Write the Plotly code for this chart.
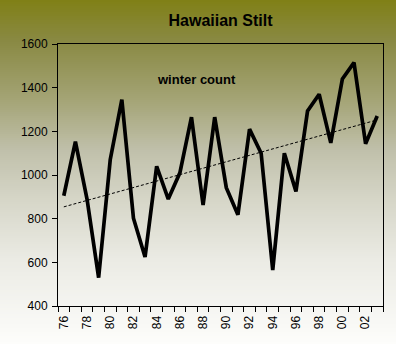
import numpy as np
import plotly.graph_objects as go

years = ["76", "77", "78", "79", "80", "81", "82", "83", "84", "85", "86", "87", "88", "89",
         "90", "91", "92", "93", "94", "95", "96", "97", "98", "99", "00", "01", "02", "03"]
counts = [905, 1153, 890, 530, 1070, 1345, 802, 624, 1040, 890, 1010, 1265, 862, 1265,
          942, 818, 1210, 1100, 565, 1100, 925, 1293, 1370, 1147, 1440, 1515, 1143, 1270]
tick_text = [y if i % 2 == 0 else "" for i, y in enumerate(years)]

# linear trend line (Excel-style linear trendline)
idx = np.arange(len(counts))
slope, intercept = np.polyfit(idx, counts, 1)
trend = (slope * idx + intercept).tolist()

W, H = 396, 344
ML, MR, MT, MB = 58, 13, 44, 38

# background gradient stops (pixel row -> rgb)
stops = [(0, (128, 128, 22)), (40, (137, 137, 66)), (100, (164, 164, 118)),
         (150, (192, 192, 170)), (200, (214, 214, 200)), (260, (235, 235, 228)),
         (344, (253, 253, 251))]

def color_at(y):
    for (y0, c0), (y1, c1) in zip(stops[:-1], stops[1:]):
        if y0 <= y <= y1:
            t = (y - y0) / (y1 - y0)
            return "rgb(%d,%d,%d)" % tuple(round(a + (b - a) * t) for a, b in zip(c0, c1))
    return "rgb(253,253,251)"

ph = H - MT - MB
pw = W - ML - MR
shapes = []
step = 2
for y in range(0, H, step):
    y_top = 1 - (y - MT) / ph
    y_bot = 1 - (y + step - MT) / ph
    shapes.append(dict(type="rect", xref="paper", yref="paper",
                       x0=-ML / pw, x1=1 + MR / pw, y0=y_bot, y1=y_top,
                       fillcolor=color_at(y + step / 2), line=dict(width=0), layer="below"))

fig = go.Figure()
fig.add_trace(go.Scatter(x=years, y=trend, mode="lines",
                         line=dict(color="black", width=1, dash="3px,2px"),
                         hoverinfo="skip", showlegend=False))
fig.add_trace(go.Scatter(x=years, y=counts, mode="lines",
                         line=dict(color="black", width=3.7), showlegend=False))

font = "Arial, Liberation Sans, sans-serif"
fig.update_layout(
    width=W, height=H,
    margin=dict(l=ML, r=MR, t=MT, b=MB, pad=0),
    paper_bgcolor="rgba(0,0,0,0)", plot_bgcolor="rgba(0,0,0,0)",
    shapes=shapes,
    title=dict(text="<b>Hawaiian Stilt</b>", x=0.5, xref="paper", xanchor="center",
               y=1 - 20 / H, yanchor="middle", font=dict(family=font, size=16, color="black")),
    annotations=[dict(text="<b>winter count</b>", xref="paper", yref="paper",
                      x=(196 - ML) / pw, y=1 - (79 - MT) / ph, showarrow=False,
                      xanchor="center", yanchor="middle",
                      font=dict(family=font, size=13, color="black"))],
    xaxis=dict(type="category", tickvals=years, ticktext=tick_text, tickson="boundaries",
               ticks="outside", ticklen=5, tickcolor="black", tickwidth=1,
               tickangle=-90, tickfont=dict(family=font, size=12, color="black"),
               ticklabelstandoff=4,
               showline=True, linecolor="black", linewidth=1, mirror=True,
               showgrid=False, zeroline=False, range=[-0.5, len(years) - 0.5]),
    yaxis=dict(range=[400, 1600], tickvals=[400, 600, 800, 1000, 1200, 1400, 1600],
               ticks="outside", ticklen=5, tickcolor="black", tickwidth=1,
               tickfont=dict(family=font, size=12, color="black"),
               ticklabelstandoff=2,
               showline=True, linecolor="black", linewidth=1, mirror=True,
               showgrid=False, zeroline=False),
)

fig.write_html("out.html")
